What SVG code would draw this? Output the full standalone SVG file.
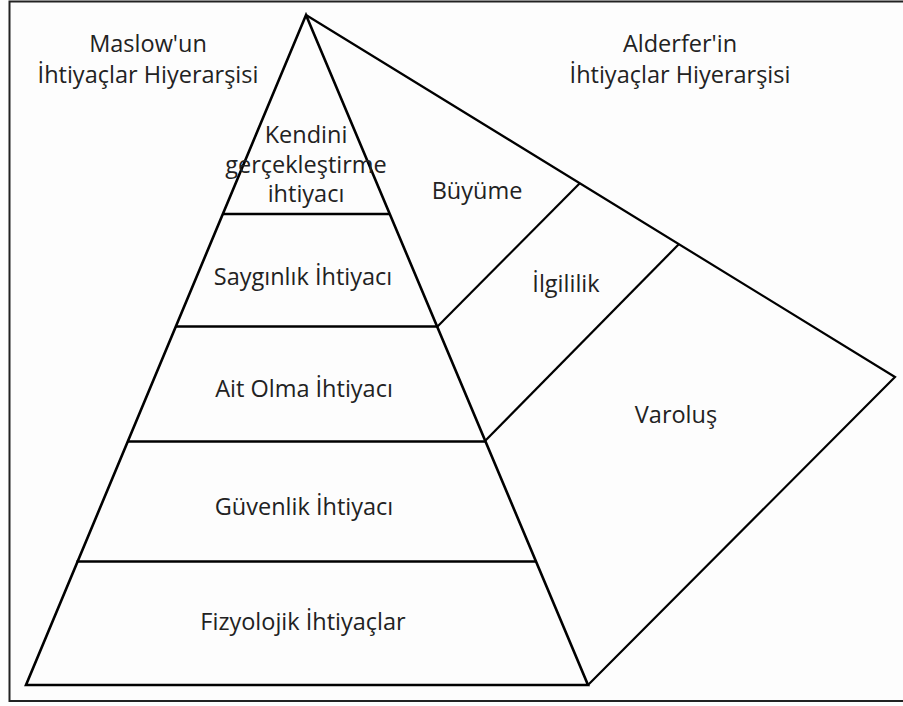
<svg xmlns="http://www.w3.org/2000/svg" width="903" height="706" viewBox="0 0 903 706">
  <style>
    .frame { fill: none; stroke: #222; stroke-width: 2; }
    .edge { fill: none; stroke: #000; stroke-width: 2.6; stroke-linejoin: miter; }
    .thin { fill: none; stroke: #000; stroke-width: 2.2; }
    .lbl { font-family: "Open Sans", "Liberation Sans", sans-serif; font-size: 23.5px; fill: #222; text-anchor: middle; }
  </style>
  <rect width="903" height="706" fill="#fdfdfd"/>
  <!-- page frame: open on the right -->
  <path class="frame" d="M903,1.5 H9.5 V701 H903"/>

  <!-- Titles -->
  <g id="title-maslow">
    <text class="lbl" x="148" y="52">Maslow'un</text>
    <text class="lbl" x="148" y="83">İhtiyaçlar Hiyerarşisi</text>
  </g>
  <g id="title-alderfer">
    <text class="lbl" x="680" y="52">Alderfer'in</text>
    <text class="lbl" x="680" y="83">İhtiyaçlar Hiyerarşisi</text>
  </g>

  <!-- Alderfer side panel, drawn first so the pyramid edge sits on top -->
  <g id="alderfer-panel">
    <polyline class="thin" points="306,15 895,377 588,685"/>
  </g>
  <g id="connectors">
    <line class="thin" x1="437" y1="327" x2="580" y2="183"/>
    <line class="thin" x1="485" y1="441" x2="679" y2="244"/>
  </g>
  <g id="growth">
    <text class="lbl" x="477" y="199">Büyüme</text>
  </g>
  <g id="relatedness">
    <text class="lbl" x="566" y="292">İlgililik</text>
  </g>
  <g id="existence">
    <text class="lbl" x="676" y="423">Varoluş</text>
  </g>

  <!-- Maslow pyramid -->
  <g id="pyramid">
    <polygon class="edge" points="306,15 588,685 26,685"/>
  </g>
  <g id="self-actualization">
    <line class="edge" x1="223" y1="214" x2="390" y2="214"/>
    <text class="lbl" x="306" y="143">Kendini</text>
    <text class="lbl" x="306" y="173">gerçekleştirme</text>
    <text class="lbl" x="306" y="202">ihtiyacı</text>
  </g>
  <g id="esteem">
    <line class="edge" x1="175.5" y1="326.5" x2="437" y2="326.5"/>
    <text class="lbl" x="303" y="285">Saygınlık İhtiyacı</text>
  </g>
  <g id="belonging">
    <line class="edge" x1="127" y1="441.5" x2="485.5" y2="441.5"/>
    <text class="lbl" x="304" y="397">Ait Olma İhtiyacı</text>
  </g>
  <g id="safety">
    <line class="edge" x1="76.5" y1="561.5" x2="536.5" y2="561.5"/>
    <text class="lbl" x="304" y="515">Güvenlik İhtiyacı</text>
  </g>
  <g id="physiological">
    <text class="lbl" x="303" y="630">Fizyolojik İhtiyaçlar</text>
  </g>
</svg>
